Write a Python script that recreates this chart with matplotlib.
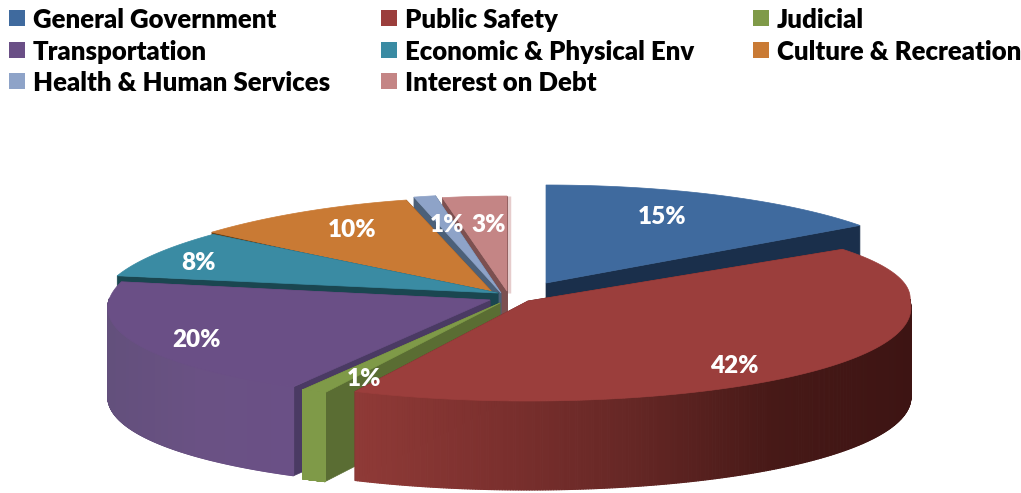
import numpy as np
import matplotlib
matplotlib.use('Agg')
import matplotlib.pyplot as plt
from matplotlib.collections import PolyCollection
from matplotlib.colors import LinearSegmentedColormap
from matplotlib.patches import Polygon, Rectangle

# Budget shares by department
departments = ['General Government', 'Public Safety', 'Judicial', 'Transportation',
               'Economic & Physical Env', 'Culture & Recreation',
               'Health & Human Services', 'Interest on Debt']
shares = [15, 42, 1, 20, 8, 10, 1, 3]

# Colours for each slice: top face, cut wall, then the outer rim from left to right
top_colors = ['#3f6a9e', '#9b3e3c', '#7f9a48', '#6a4f86', '#3a8ba3', '#c97a34', '#8ea3c8', '#c48585']
wall_colors = ['#1a2f4b', '#5e2422', '#5a6d33', '#4a3a63', '#1a4650', '#6e4012', '#4c6078', '#7c5050']
rim_colors = [['#1a2f4b', '#1a2f4b'],
              ['#8f3a37', '#7c302e', '#652725', '#471917', '#3d1413'],
              ['#7f9a48', '#7f9a48'],
              ['#63507c', '#6a5184', '#6a5086'],
              ['#1a4650', '#1a4650'],
              ['#6e4012', '#6e4012'],
              ['#4c6078', '#4c6078'],
              ['#7c5050', '#7c5050']]

# Where each exploded slice sits on the canvas, in pixels
apex_x = [546, 528, 500, 490, 498, 494, 501, 507]
apex_y = [283, 301, 303, 300, 293, 294, 293, 291]
radius_x = [388, 382, 383, 381, 395, 391, 350, 345]
radius_back = [98, 88, 97, 97, 92, 97, 99, 95]
radius_front = [98, 100, 99, 99, 92, 97, 99, 95]
taper_back = [0, -0.03, 0.08, 0.08, 0.1, 0.1, 0, 0]
taper_front = [0, 0.07, 0.08, 0.08, 0.1, 0.1, 0, 0]
thickness = 89

label_x = [662, 734, 364, 196, 198, 352, 447, 489]
label_y = [217, 366, 379, 340, 263, 230, 225, 225]

legend_x = [9, 381, 753]
legend_y = [18, 50, 81]

# Back slices go first so the front ones paint over them
draw_order = [7, 6, 5, 4, 0, 3, 2, 1]

plt.rcParams['font.family'] = ['Lato', 'DejaVu Sans']

fig = plt.figure(figsize=(10.21, 4.93), dpi=100)
ax = fig.add_axes([0, 0, 1, 1])
ax.set_xlim(0, 1021)
ax.set_ylim(493, 0)
ax.axis('off')


# Screen position of a point on the outer edge of slice i, angle clockwise from 12 o'clock
def edge_point(i, theta):
    s, c = np.sin(theta), np.cos(theta)
    taper = np.where(c > 0, taper_back[i], taper_front[i])
    ry = np.where(c > 0, radius_back[i], radius_front[i])
    rx = radius_x[i] * (1 - taper * c)
    return apex_x[i] + rx * s, apex_y[i] - ry * c


def draw_slice(i, start, end):
    px, py = apex_x[i], apex_y[i]

    # Radial cut faces, pushed straight down by the thickness
    for angle in (start, end):
        x, y = edge_point(i, angle)
        ax.add_patch(Polygon([(px, py), (x, y), (x, y + thickness), (px, py + thickness)],
                             closed=True, fc=wall_colors[i], ec=wall_colors[i], lw=0.5))

    # Outer rim, only the part that faces the viewer
    thetas = np.linspace(start, end, 400)
    thetas = thetas[np.cos(thetas) <= 0.02]
    if len(thetas) > 1:
        xs, ys = edge_point(i, thetas)
        quads = []
        mids = []
        for k in range(len(thetas) - 1):
            quads.append([(xs[k], ys[k]), (xs[k + 1], ys[k + 1]),
                          (xs[k + 1], ys[k + 1] + thickness), (xs[k], ys[k] + thickness)])
            mids.append((xs[k] + xs[k + 1]) / 2)
        cmap = LinearSegmentedColormap.from_list('rim', rim_colors[i])
        mids = np.array(mids)
        shade = cmap((mids - mids.min()) / max(np.ptp(mids), 1))
        rim = PolyCollection(quads, facecolors=shade, edgecolors=shade, linewidths=0.8)
        rim.set_snap(False)
        ax.add_collection(rim)

    # Top face
    thetas = np.linspace(start, end, 100)
    xs, ys = edge_point(i, thetas)
    points = [(px, py)] + list(zip(xs, ys))
    ax.add_patch(Polygon(points, closed=True, fc=top_colors[i], ec=top_colors[i], lw=0.5))


# Turn the shares into angles
bounds = np.radians(np.cumsum([0] + shares) * 360 / sum(shares))

for i in draw_order:
    draw_slice(i, bounds[i], bounds[i + 1])

# Pale sliver down the straight edge of the last slice
tip_x, tip_y = edge_point(7, bounds[8])
ax.plot([tip_x + 2, tip_x + 2], [tip_y, apex_y[7] + 2], color='#e6cccc', lw=2.5, solid_capstyle='butt', zorder=0.5)

for i, value in enumerate(shares):
    ax.text(label_x[i], label_y[i], f'{value}%', color='white', fontsize=17.5, fontweight='heavy',
            ha='center', va='center')

# Legend is three rows of three, written out by hand
for i, name in enumerate(departments):
    col = i % 3
    row = i // 3
    ax.add_patch(Rectangle((legend_x[col], legend_y[row] - 8), 16, 16, fc=top_colors[i], ec='none'))
    ax.text(legend_x[col] + 24, legend_y[row] + 2, name, color='black', fontsize=18.5, fontweight='heavy',
            ha='left', va='center')

plt.savefig('out.png', dpi=100)
